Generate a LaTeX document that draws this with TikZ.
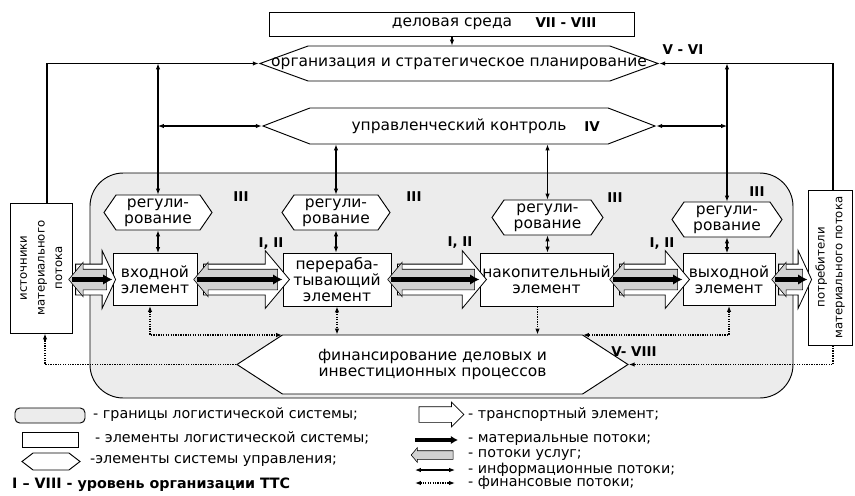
\documentclass[tikz,border=0pt]{standalone}
\usepackage{fontspec}
\setmainfont{DejaVu Sans}
\usetikzlibrary{shapes.symbols,shapes.arrows,arrows.meta}

\newcommand\pxu{0.03cm}
\newcommand\mainfs{\fontsize{13.2}{13.4}\selectfont}
\newcommand\lvlfs{\fontsize{11.5}{12}\selectfont\bfseries}
\newcommand\legfs{\fontsize{12.2}{13}\selectfont}
\newcommand\sidefs{\fontsize{10}{15}\selectfont}
\newcommand\zw[1]{\makebox[0pt]{#1}}
\newcommand\rottxt[1]{\rotatebox{90}{\begin{tabular}{@{}c@{}}#1\end{tabular}}}

\tikzset{
  >={Latex[length=5pt,width=3.8pt]},
  bw/.style={minimum width=#1*\pxu},
  bh/.style={minimum height=#1*\pxu},
  lsysbox/.style={draw,fill=gray!15,line width=0.8pt,rounded corners=1cm},
  elem/.style={draw,fill=white,line width=0.8pt,inner sep=0pt,align=center,font=\mainfs},
  env/.style={elem},
  side/.style={draw,fill=white,line width=0.8pt,inner sep=0pt,font=\sidefs},
  ctrl/.style={shape=signal,signal to=west and east,draw,fill=white,line width=0.8pt,inner sep=0pt,align=center,font=\mainfs},
  reg/.style={ctrl,bw=108,bh=35,signal pointer angle=111},
  lvl/.style={inner sep=0pt,font=\lvlfs},
  legtxt/.style={anchor=west,inner sep=0pt,font=\legfs},
  info/.style={line width=0.9pt},
  fin/.style={line width=1.1pt,densely dotted},
  mat/.style={-{Latex[length=8pt,width=9pt]},line width=4.5pt},
  transp/.style={shape=single arrow,draw,fill=white,line width=0.7pt,inner xsep=0pt,inner ysep=15*\pxu,single arrow head extend=13.5*\pxu,single arrow tip angle=100},
  serv/.style={shape=single arrow,shape border rotate=180,draw,fill=gray!35,line width=0.5pt,inner xsep=0pt,inner ysep=10*\pxu,single arrow head extend=7*\pxu,single arrow tip angle=100},
}

\begin{document}
\begin{tikzpicture}[x=0.03cm,y=-0.03cm]
\useasboundingbox(0,0)rectangle(855,495);

\node[lsysbox,bw=703,bh=225](ls)at(441.5,285.5){};

\node[env,bw=365,bh=24](env)at(452,24){деловая среда};
\node[ctrl,bw=398,bh=35,signal pointer angle=40](org)at(459,63.5){\zw{организация и стратегическое планирование}};
\node[ctrl,bw=392,bh=36,signal pointer angle=42](ctl)at(459,126){управленческий контроль};

\node[reg](r1)at(158,212.5){регули-\\рование};
\node[reg](r2)at(336,212.5){регули-\\рование};
\node[reg,bw=111](r3)at(547.5,217.5){регули-\\рование};
\node[reg,bw=110](r4)at(727,219.5){регули-\\рование};

\node[elem,bw=84,bh=52](e1)at(155,279.5){входной\\элемент};
\node[elem,bw=108,bh=53](e2)at(337,279.5){перераба-\\тывающий\\элемент};
\node[elem,bw=133,bh=53](e3)at(546.5,279.5){накопительный\\элемент};
\node[elem,bw=92,bh=52](e4)at(729,279.5){выходной\\элемент};

\node[side,bw=62,bh=130](src)at(41,268){\rottxt{источники\\материального\\потока}};
\node[side,bw=44,bh=155](dst)at(830,267.5){\rottxt{потребители\\материального потока}};

\node[ctrl,bw=391,bh=59,signal pointer angle=66](fin)at(432.5,364.5){финансирование деловых и\\инвестиционных процессов};
\coordinate(fnw)at(282,335);
\coordinate(fne)at(583,335);

\node[transp,bh=40,single arrow tip angle=130](t1)at(92,279.5){};
\node[transp,bh=86](t2)at(240,279.5){};
\node[transp,bh=89](t3)at(435.5,279.5){};
\node[transp,bh=70](t4)at(648,279.5){};
\node[transp,bh=33,single arrow tip angle=130](t5)at(791.5,279.5){};

\node[serv,bh=38](s1)at(92,279.5){};
\node[serv,bh=84](s2)at(240,279.5){};
\node[serv,bh=87](s3)at(435.5,279.5){};
\node[serv,bh=68](s4)at(648,279.5){};
\node[serv,bh=31](s5)at(791.5,279.5){};

\draw[mat](e1.west-|src.east)--(e1.west);
\draw[mat](e1.east)--(e2.west);
\draw[mat](e2.east)--(e3.west);
\draw[mat](e3.east)--(e4.west);
\draw[mat](e4.east)--(e4.east-|dst.west);

\draw[info,<-](org.west)-|([xshift=6*\pxu]src.north);
\draw[info,<->](r1.north)--(r1.north|-org.west);
\draw[info,<->](r1.north|-ctl.west)--(ctl.west);
\draw[info,<->](r2.north)--(r2.north|-ctl.south);
\draw[info,<->](r3.north)--(r3.north|-ctl.south);
\draw[info,<->](r4.north)--(r4.north|-org.east);
\draw[info,<->](ctl.east)--(r4.north|-ctl.east);
\draw[info,<-](org.east)-|([xshift=3*\pxu]dst.north);
\draw[info,->](env.south)--(env.south|-org.north);
\draw[info,<->](r1.south)--(r1.south|-e1.north);
\draw[info,<->](r2.south)--(r2.south|-e2.north);
\draw[info,<->](r3.south)--(r3.south|-e3.north);
\draw[info,<->](r4.south)--(r4.south|-e4.north);

\draw[fin,<->]([xshift=-5*\pxu]e1.south)|-(fnw);
\draw[fin,<->](e2.south)--(e2.south|-fin.north);
\draw[fin,->]([xshift=-9*\pxu]e3.south)--([xshift=-9*\pxu]e3.south|-fin.north);
\draw[fin,<->](e4.south)|-(fne);
\draw[fin,->]([xshift=3*\pxu]dst.south)|-(fin.east);
\draw[fin,->](fin.west)-|([xshift=4*\pxu]src.south);

\node[lvl](l1)at(566,23){VII - VIII};
\node[lvl](l2)at(683,50){V - VI};
\node[lvl](l3)at(592,127){IV};
\node[lvl](l4)at(241,197){III};
\node[lvl](l5)at(414,197){III};
\node[lvl](l6)at(615,198){III};
\node[lvl](l7)at(757,192){III};
\node[lvl](l8)at(271,244){I, II};
\node[lvl](l9)at(460,243){I, II};
\node[lvl](l10)at(662,244){I, II};
\node[lvl](l11)at(634,352){V- VIII};

\node[lsysbox,bw=70,bh=15,rounded corners=4pt](lg1)at(50,415.5){};
\node[elem,bw=56,bh=15](lg2)at(50,439.5){};
\node[ctrl,bw=58,bh=17,signal pointer angle=75](lg3)at(51,461.5){};
\node[legtxt](lt1)at(93,415){- границы логистической системы;};
\node[legtxt](lt2)at(95,438){- элементы логистической системы;};
\node[legtxt](lt3)at(90,461){-элементы системы управления;};
\node[legtxt,font=\legfs\bfseries](lt4)at(12,485){I – VIII - уровень организации ТТС};

\node[transp,bh=45,inner ysep=7.5*\pxu,single arrow head extend=4.5*\pxu,single arrow tip angle=90,line width=0.6pt](lg5)at(437.5,414.5){};
\coordinate(m1)at(415,440);
\coordinate(m2)at(458,440);
\draw[mat,line width=3pt,-{Latex[length=6pt,width=7pt]}](m1)--(m2);
\node[serv,bh=42,inner ysep=4*\pxu,single arrow head extend=3*\pxu](lg6)at(434,455){};
\coordinate(i1)at(415,470);
\coordinate(i2)at(455,470);
\draw[info,<->](i1)--(i2);
\coordinate(f1)at(415,483);
\coordinate(f2)at(455,483);
\draw[fin,<->](f1)--(f2);
\node[legtxt](lt5)at(468,414.5){- транспортный элемент;};
\node[legtxt](lt6)at(468,440){- материальные потоки;};
\node[legtxt](lt7)at(468,455){- потоки услуг;};
\node[legtxt](lt8)at(468,470){- информационные потоки;};
\node[legtxt](lt9)at(468,483){- финансовые потоки;};

\end{tikzpicture}
\end{document}
